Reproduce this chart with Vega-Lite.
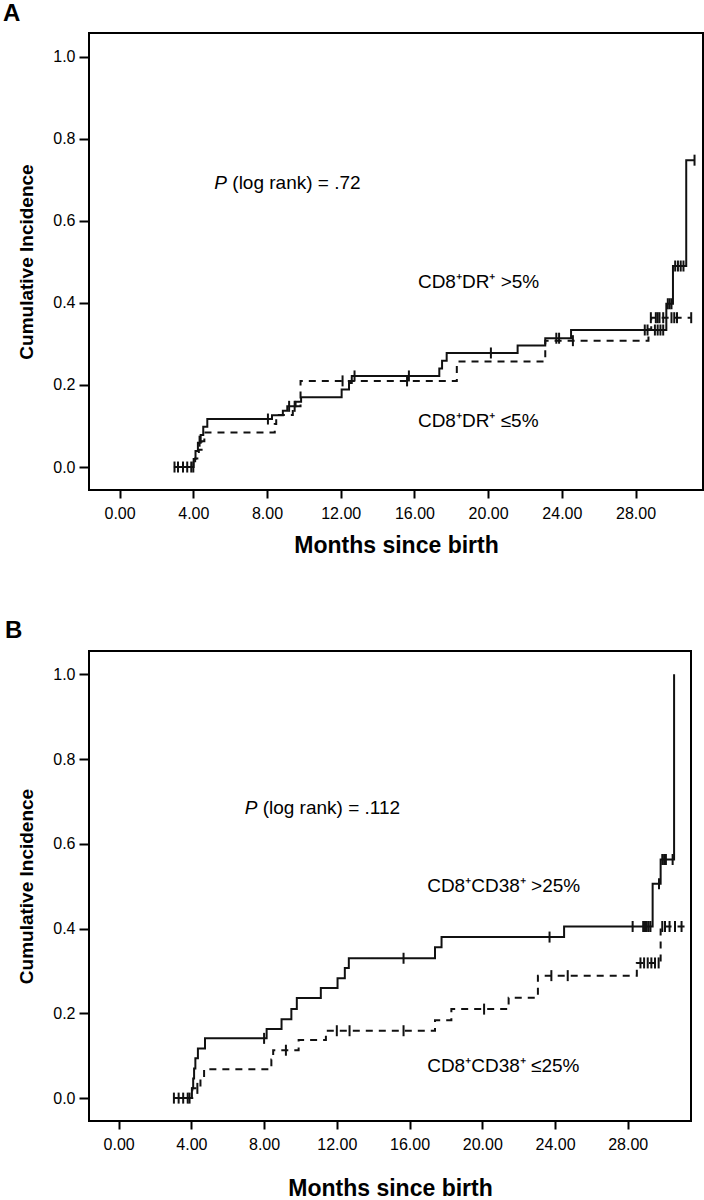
{
  "$schema": "https://vega.github.io/schema/vega-lite/v6.json",
  "padding": {"left": 2, "top": 1, "right": 2, "bottom": 0},
  "background": "white",
  "config": {
    "font": "Liberation Sans",
    "view": {"stroke": "black", "strokeWidth": 2},
    "axis": {
      "domain": false, "grid": false, "ticks": true, "tickColor": "black", "tickWidth": 2,
      "labelColor": "black", "labelFontSize": 16, "labelFont": "Liberation Sans",
      "titleColor": "black", "titleFont": "Liberation Sans", "titleFontWeight": "bold"
    },
    "title": {"font": "Liberation Sans", "fontSize": 24, "fontWeight": "bold", "color": "black", "anchor": "start", "frame": "group"}
  },
  "datasets": {
    "curves": [
      {"panel":"A","group":"hi","month":2.95,"value":0},
      {"panel":"A","group":"hi","month":4.02,"value":0.0195},
      {"panel":"A","group":"hi","month":4.12,"value":0.039},
      {"panel":"A","group":"hi","month":4.25,"value":0.059},
      {"panel":"A","group":"hi","month":4.4,"value":0.078},
      {"panel":"A","group":"hi","month":4.54,"value":0.098},
      {"panel":"A","group":"hi","month":4.76,"value":0.117},
      {"panel":"A","group":"hi","month":8.27,"value":0.126},
      {"panel":"A","group":"hi","month":8.86,"value":0.137},
      {"panel":"A","group":"hi","month":9.1,"value":0.148},
      {"panel":"A","group":"hi","month":9.55,"value":0.159},
      {"panel":"A","group":"hi","month":9.85,"value":0.17},
      {"panel":"A","group":"hi","month":12.05,"value":0.189},
      {"panel":"A","group":"hi","month":12.45,"value":0.205},
      {"panel":"A","group":"hi","month":12.6,"value":0.222},
      {"panel":"A","group":"hi","month":17.35,"value":0.24},
      {"panel":"A","group":"hi","month":17.5,"value":0.259},
      {"panel":"A","group":"hi","month":17.75,"value":0.278},
      {"panel":"A","group":"hi","month":21.6,"value":0.296},
      {"panel":"A","group":"hi","month":23.1,"value":0.314},
      {"panel":"A","group":"hi","month":24.5,"value":0.334},
      {"panel":"A","group":"hi","month":29.67,"value":0.398},
      {"panel":"A","group":"hi","month":30.03,"value":0.49},
      {"panel":"A","group":"hi","month":30.75,"value":0.748},
      {"panel":"A","group":"hi","month":31.2,"value":0.748},
      {"panel":"A","group":"lo","month":2.95,"value":0},
      {"panel":"A","group":"lo","month":4.1,"value":0.021},
      {"panel":"A","group":"lo","month":4.3,"value":0.042},
      {"panel":"A","group":"lo","month":4.45,"value":0.063},
      {"panel":"A","group":"lo","month":4.6,"value":0.084},
      {"panel":"A","group":"lo","month":8.42,"value":0.105},
      {"panel":"A","group":"lo","month":8.5,"value":0.127},
      {"panel":"A","group":"lo","month":9.4,"value":0.148},
      {"panel":"A","group":"lo","month":9.82,"value":0.21},
      {"panel":"A","group":"lo","month":18.3,"value":0.257},
      {"panel":"A","group":"lo","month":23.1,"value":0.308},
      {"panel":"A","group":"lo","month":28.7,"value":0.336},
      {"panel":"A","group":"lo","month":28.85,"value":0.364},
      {"panel":"A","group":"lo","month":31.0,"value":0.364},
      {"panel":"B","group":"hi","month":3.0,"value":0},
      {"panel":"B","group":"hi","month":4.03,"value":0.023},
      {"panel":"B","group":"hi","month":4.1,"value":0.046},
      {"panel":"B","group":"hi","month":4.15,"value":0.07},
      {"panel":"B","group":"hi","month":4.22,"value":0.094},
      {"panel":"B","group":"hi","month":4.36,"value":0.117},
      {"panel":"B","group":"hi","month":4.75,"value":0.141},
      {"panel":"B","group":"hi","month":8.14,"value":0.163},
      {"panel":"B","group":"hi","month":8.96,"value":0.186},
      {"panel":"B","group":"hi","month":9.5,"value":0.21},
      {"panel":"B","group":"hi","month":9.8,"value":0.236},
      {"panel":"B","group":"hi","month":11.12,"value":0.26},
      {"panel":"B","group":"hi","month":12.04,"value":0.283},
      {"panel":"B","group":"hi","month":12.44,"value":0.307},
      {"panel":"B","group":"hi","month":12.66,"value":0.33},
      {"panel":"B","group":"hi","month":17.4,"value":0.356},
      {"panel":"B","group":"hi","month":17.76,"value":0.38},
      {"panel":"B","group":"hi","month":24.5,"value":0.405},
      {"panel":"B","group":"hi","month":29.37,"value":0.506},
      {"panel":"B","group":"hi","month":29.81,"value":0.563},
      {"panel":"B","group":"hi","month":30.55,"value":1.0},
      {"panel":"B","group":"lo","month":3.0,"value":0},
      {"panel":"B","group":"lo","month":4.05,"value":0.023},
      {"panel":"B","group":"lo","month":4.5,"value":0.045},
      {"panel":"B","group":"lo","month":4.7,"value":0.068},
      {"panel":"B","group":"lo","month":8.4,"value":0.091},
      {"panel":"B","group":"lo","month":8.5,"value":0.113},
      {"panel":"B","group":"lo","month":9.9,"value":0.137},
      {"panel":"B","group":"lo","month":11.4,"value":0.159},
      {"panel":"B","group":"lo","month":17.4,"value":0.184},
      {"panel":"B","group":"lo","month":18.3,"value":0.21},
      {"panel":"B","group":"lo","month":21.45,"value":0.237},
      {"panel":"B","group":"lo","month":23.06,"value":0.289},
      {"panel":"B","group":"lo","month":28.5,"value":0.319},
      {"panel":"B","group":"lo","month":29.81,"value":0.405},
      {"panel":"B","group":"lo","month":31.24,"value":0.405}
    ],
    "censors": [
      {"panel":"A","group":"hi","month":2.98,"value":0},
      {"panel":"A","group":"hi","month":3.17,"value":0},
      {"panel":"A","group":"hi","month":3.44,"value":0},
      {"panel":"A","group":"hi","month":3.67,"value":0},
      {"panel":"A","group":"hi","month":3.89,"value":0},
      {"panel":"A","group":"hi","month":8.05,"value":0.117},
      {"panel":"A","group":"hi","month":9.2,"value":0.148},
      {"panel":"A","group":"hi","month":12.75,"value":0.222},
      {"panel":"A","group":"hi","month":15.7,"value":0.222},
      {"panel":"A","group":"hi","month":20.15,"value":0.278},
      {"panel":"A","group":"hi","month":23.7,"value":0.314},
      {"panel":"A","group":"hi","month":23.85,"value":0.314},
      {"panel":"A","group":"hi","month":28.5,"value":0.334},
      {"panel":"A","group":"hi","month":28.65,"value":0.334},
      {"panel":"A","group":"hi","month":29.05,"value":0.334},
      {"panel":"A","group":"hi","month":29.2,"value":0.334},
      {"panel":"A","group":"hi","month":29.35,"value":0.334},
      {"panel":"A","group":"hi","month":29.5,"value":0.334},
      {"panel":"A","group":"hi","month":29.75,"value":0.398},
      {"panel":"A","group":"hi","month":29.85,"value":0.398},
      {"panel":"A","group":"hi","month":29.95,"value":0.398},
      {"panel":"A","group":"hi","month":30.15,"value":0.49},
      {"panel":"A","group":"hi","month":30.3,"value":0.49},
      {"panel":"A","group":"hi","month":30.45,"value":0.49},
      {"panel":"A","group":"hi","month":30.6,"value":0.49},
      {"panel":"A","group":"hi","month":31.2,"value":0.748},
      {"panel":"A","group":"lo","month":4.0,"value":0},
      {"panel":"A","group":"lo","month":4.34,"value":0.063},
      {"panel":"A","group":"lo","month":9.5,"value":0.148},
      {"panel":"A","group":"lo","month":12.1,"value":0.21},
      {"panel":"A","group":"lo","month":15.6,"value":0.21},
      {"panel":"A","group":"lo","month":24.6,"value":0.308},
      {"panel":"A","group":"lo","month":28.83,"value":0.364},
      {"panel":"A","group":"lo","month":29.1,"value":0.364},
      {"panel":"A","group":"lo","month":29.2,"value":0.364},
      {"panel":"A","group":"lo","month":29.3,"value":0.364},
      {"panel":"A","group":"lo","month":29.5,"value":0.364},
      {"panel":"A","group":"lo","month":29.95,"value":0.364},
      {"panel":"A","group":"lo","month":30.1,"value":0.364},
      {"panel":"A","group":"lo","month":30.25,"value":0.364},
      {"panel":"A","group":"lo","month":31.02,"value":0.364},
      {"panel":"B","group":"hi","month":3.04,"value":0},
      {"panel":"B","group":"hi","month":3.3,"value":0},
      {"panel":"B","group":"hi","month":3.55,"value":0},
      {"panel":"B","group":"hi","month":3.8,"value":0},
      {"panel":"B","group":"hi","month":8.0,"value":0.141},
      {"panel":"B","group":"hi","month":15.67,"value":0.33},
      {"panel":"B","group":"hi","month":23.7,"value":0.38},
      {"panel":"B","group":"hi","month":28.27,"value":0.405},
      {"panel":"B","group":"hi","month":28.85,"value":0.405},
      {"panel":"B","group":"hi","month":28.95,"value":0.405},
      {"panel":"B","group":"hi","month":29.05,"value":0.405},
      {"panel":"B","group":"hi","month":29.15,"value":0.405},
      {"panel":"B","group":"hi","month":29.25,"value":0.405},
      {"panel":"B","group":"hi","month":29.72,"value":0.506},
      {"panel":"B","group":"hi","month":29.9,"value":0.563},
      {"panel":"B","group":"hi","month":30.0,"value":0.563},
      {"panel":"B","group":"hi","month":30.1,"value":0.563},
      {"panel":"B","group":"hi","month":30.47,"value":0.563},
      {"panel":"B","group":"lo","month":3.9,"value":0},
      {"panel":"B","group":"lo","month":4.33,"value":0.023},
      {"panel":"B","group":"lo","month":9.2,"value":0.113},
      {"panel":"B","group":"lo","month":12.0,"value":0.159},
      {"panel":"B","group":"lo","month":12.7,"value":0.159},
      {"panel":"B","group":"lo","month":15.67,"value":0.159},
      {"panel":"B","group":"lo","month":20.1,"value":0.21},
      {"panel":"B","group":"lo","month":23.8,"value":0.289},
      {"panel":"B","group":"lo","month":24.7,"value":0.289},
      {"panel":"B","group":"lo","month":28.7,"value":0.319},
      {"panel":"B","group":"lo","month":28.9,"value":0.319},
      {"panel":"B","group":"lo","month":29.1,"value":0.319},
      {"panel":"B","group":"lo","month":29.3,"value":0.319},
      {"panel":"B","group":"lo","month":29.5,"value":0.319},
      {"panel":"B","group":"lo","month":29.7,"value":0.319},
      {"panel":"B","group":"lo","month":29.9,"value":0.405},
      {"panel":"B","group":"lo","month":30.05,"value":0.405},
      {"panel":"B","group":"lo","month":30.3,"value":0.405},
      {"panel":"B","group":"lo","month":30.6,"value":0.405},
      {"panel":"B","group":"lo","month":30.96,"value":0.405}
    ],
    "notes": [
      {"panel":"A","kind":"p","month":5.14,"value":0.693,"text":"P"},
      {"panel":"A","kind":"rest","month":5.14,"value":0.693,"text":"(log rank) = .72"},
      {"panel":"A","kind":"lab","month":16.19,"value":0.452,"text":"CD8⁺DR⁺ >5%"},
      {"panel":"A","kind":"lab","month":16.19,"value":0.112,"text":"CD8⁺DR⁺ ≤5%"},
      {"panel":"B","kind":"p","month":6.93,"value":0.685,"text":"P"},
      {"panel":"B","kind":"rest","month":6.93,"value":0.685,"text":"(log rank) = .112"},
      {"panel":"B","kind":"lab","month":16.97,"value":0.5,"text":"CD8⁺CD38⁺ >25%"},
      {"panel":"B","kind":"lab","month":16.97,"value":0.075,"text":"CD8⁺CD38⁺ ≤25%"}
    ]
  },
  "spacing": 60,
  "vconcat": [
    {
      "width": 614,
      "height": 457,
      "title": {"text": "A", "dx": -86, "offset": 7},
      "encoding": {
        "x": {"field": "month", "type": "quantitative",
              "scale": {"domain": [-1.66, 31.66], "nice": false, "zero": false},
              "axis": {"values": [0,4,8,12,16,20,24,28], "format": ".2f", "tickSize": 8, "labelPadding": 7,
                       "title": "Months since birth", "titleFontSize": 23, "titlePadding": 13}},
        "y": {"field": "value", "type": "quantitative",
              "scale": {"domain": [-0.056, 1.058], "nice": false, "zero": false},
              "axis": {"values": [0,0.2,0.4,0.6,0.8,1.0], "format": ".1f", "tickSize": 10, "labelPadding": 4,
                       "title": "Cumulative Incidence", "titleFontSize": 19, "titlePadding": 16}}
      },
      "layer": [
        {"data": {"name": "curves"}, "transform": [{"filter": "datum.panel === 'A'"}],
         "mark": {"type": "line", "interpolate": "step-after", "color": "#111111", "strokeWidth": 2},
         "encoding": {"detail": {"field": "group"},
                      "strokeDash": {"field": "group", "type": "nominal", "scale": {"domain": ["hi","lo"], "range": [[1,0],[7,6]]}, "legend": null}}},
        {"data": {"name": "censors"}, "transform": [{"filter": "datum.panel === 'A'"}],
         "mark": {"type": "tick", "orient": "vertical", "color": "#111111", "opacity": 1, "size": 11, "thickness": 2}},
        {"data": {"name": "notes"}, "transform": [{"filter": "datum.panel === 'A' && datum.kind === 'p'"}],
         "mark": {"type": "text", "align": "left", "baseline": "middle", "fontSize": 19, "fontStyle": "italic", "color": "black"},
         "encoding": {"text": {"field": "text"}}},
        {"data": {"name": "notes"}, "transform": [{"filter": "datum.panel === 'A' && datum.kind === 'rest'"}],
         "mark": {"type": "text", "align": "left", "baseline": "middle", "fontSize": 19, "dx": 18, "color": "black"},
         "encoding": {"text": {"field": "text"}}},
        {"data": {"name": "notes"}, "transform": [{"filter": "datum.panel === 'A' && datum.kind === 'lab'"}],
         "mark": {"type": "text", "align": "left", "baseline": "middle", "fontSize": 19, "color": "black"},
         "encoding": {"text": {"field": "text"}}}
      ]
    },
    {
      "width": 602,
      "height": 470,
      "title": {"text": "B", "dx": -84, "offset": 8},
      "encoding": {
        "x": {"field": "month", "type": "quantitative",
              "scale": {"domain": [-1.63, 31.48], "nice": false, "zero": false},
              "axis": {"values": [0,4,8,12,16,20,24,28], "format": ".2f", "tickSize": 8, "labelPadding": 7,
                       "title": "Months since birth", "titleFontSize": 23, "titlePadding": 25}},
        "y": {"field": "value", "type": "quantitative",
              "scale": {"domain": [-0.054, 1.055], "nice": false, "zero": false},
              "axis": {"values": [0,0.2,0.4,0.6,0.8,1.0], "format": ".1f", "tickSize": 10, "labelPadding": 4,
                       "title": "Cumulative Incidence", "titleFontSize": 19, "titlePadding": 16}}
      },
      "layer": [
        {"data": {"name": "curves"}, "transform": [{"filter": "datum.panel === 'B'"}],
         "mark": {"type": "line", "interpolate": "step-after", "color": "#111111", "strokeWidth": 2},
         "encoding": {"detail": {"field": "group"},
                      "strokeDash": {"field": "group", "type": "nominal", "scale": {"domain": ["hi","lo"], "range": [[1,0],[7,6]]}, "legend": null}}},
        {"data": {"name": "censors"}, "transform": [{"filter": "datum.panel === 'B'"}],
         "mark": {"type": "tick", "orient": "vertical", "color": "#111111", "opacity": 1, "size": 11, "thickness": 2}},
        {"data": {"name": "notes"}, "transform": [{"filter": "datum.panel === 'B' && datum.kind === 'p'"}],
         "mark": {"type": "text", "align": "left", "baseline": "middle", "fontSize": 19, "fontStyle": "italic", "color": "black"},
         "encoding": {"text": {"field": "text"}}},
        {"data": {"name": "notes"}, "transform": [{"filter": "datum.panel === 'B' && datum.kind === 'rest'"}],
         "mark": {"type": "text", "align": "left", "baseline": "middle", "fontSize": 19, "dx": 18, "color": "black"},
         "encoding": {"text": {"field": "text"}}},
        {"data": {"name": "notes"}, "transform": [{"filter": "datum.panel === 'B' && datum.kind === 'lab'"}],
         "mark": {"type": "text", "align": "left", "baseline": "middle", "fontSize": 19, "color": "black"},
         "encoding": {"text": {"field": "text"}}}
      ]
    }
  ]
}
